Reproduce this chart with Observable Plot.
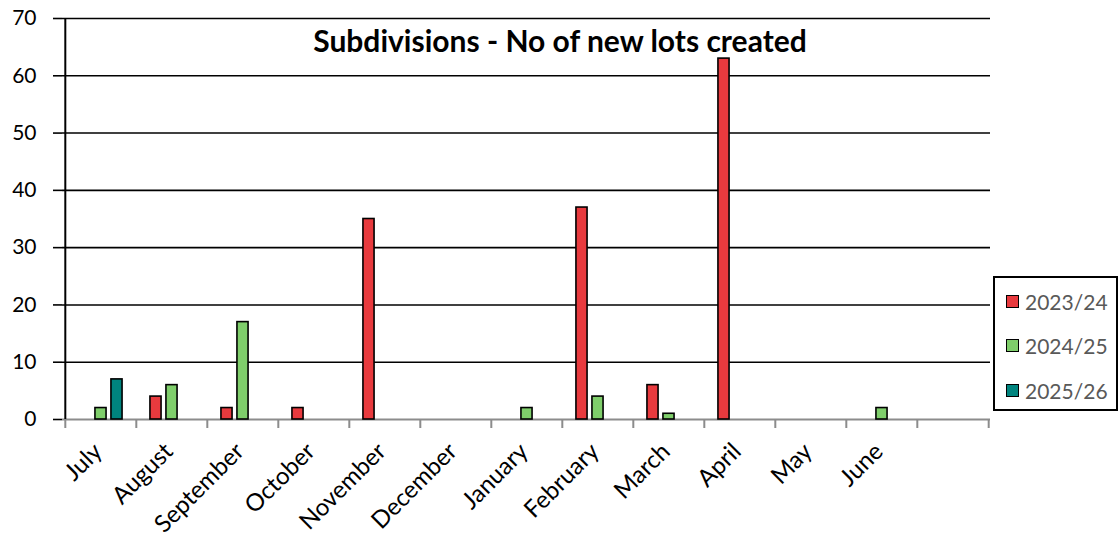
<!DOCTYPE html>
<html><head><meta charset="utf-8">
<script src="https://cdn.jsdelivr.net/npm/d3@7"></script>
<script src="https://cdn.jsdelivr.net/npm/@observablehq/plot@0.6"></script>
<style>
body{margin:0;background:#fff;font-family:Lato,"Open Sans",sans-serif;}
#wrap{position:relative;width:1120px;height:539px;overflow:hidden;}
#title{position:absolute;left:0;top:22px;width:1120px;text-align:center;font-weight:bold;font-size:30px;line-height:36px;color:#000;}
#legend{position:absolute;left:993px;top:276px;width:125px;height:135px;border:2px solid #000;box-sizing:border-box;background:#fff;}
.item{position:absolute;left:11px;height:26px;display:flex;align-items:center;font-size:21px;color:#595959;}
.sw{width:11px;height:11px;border:1.5px solid #000;margin-right:6px;}
#chart g[aria-label="x-axis tick label"] text{font-size:24px;}
#chart g[aria-label="y-axis tick label"] text{font-size:21px;}
</style></head>
<body>
<div id="wrap"><div id="chart"></div><div id="title"></div><div id="legend"></div></div>
<script>
const titleText = "Subdivisions - No of new lots created";
const months = ["July","August","September","October","November","December","January","February","March","April","May","June"];
const slots = [...months, ""];
const series = ["2023/24","2024/25","2025/26"];
const colors = ["#E83A3E","#7FCE6B","#00847E"];
const v2023_24 = [0,4,2,2,35,0,0,37,6,63,0,0];
const v2024_25 = [2,6,17,0,0,0,2,4,1,0,0,2];
const v2025_26 = [7,null,null,null,null,null,null,null,null,null,null,null];
const yTicks = [0,10,20,30,40,50,60,70];

const values = [v2023_24, v2024_25, v2025_26];
const rows = months.flatMap((m, i) => series.map((s, j) => ({month: m, series: s, value: values[j][i]})))
  .filter(d => d.value != null && d.value > 0);

const W = 1120, H = 539, mL = 62, mR = 130, mT = 18, mB = 120;
const step = (W - mL - mR) / slots.length;
const barW = 11.5, gap = 16;
const inset = (step - barW) / 2;

const barMarks = series.map((s, j) => Plot.barY(rows.filter(d => d.series === s), {
  x: "month", y: "value", fill: colors[j], stroke: "#000", strokeWidth: 1.6,
  dx: (j - 1) * gap, insetLeft: inset, insetRight: inset
}));

const chart = Plot.plot({
  width: W, height: H, marginLeft: mL, marginRight: mR, marginTop: mT, marginBottom: mB,
  style: {fontFamily: "Lato, 'Open Sans', sans-serif", fontSize: "20px", color: "#000", background: "#fff"},
  x: {type: "band", domain: slots, padding: 0},
  y: {domain: [0, 70]},
  marks: [
    Plot.ruleY(yTicks.filter(t => t > 0), {stroke: "#000", strokeWidth: 1.6}),
    Plot.ruleY([0], {stroke: "#8c8c8c", strokeWidth: 2}),
    Plot.ruleX(slots, {x: d => d, dx: -step / 2, y1: 0, y2: 0, insetBottom: -9, stroke: "#8c8c8c", strokeWidth: 2}),
    Plot.ruleX([slots[slots.length - 1]], {x: d => d, dx: step / 2, y1: 0, y2: 0, insetBottom: -9, stroke: "#8c8c8c", strokeWidth: 2}),
    ...barMarks,
    Plot.ruleX([slots[0]], {x: d => d, dx: -step / 2, stroke: "#000", strokeWidth: 2}),
    Plot.axisY({ticks: yTicks, tickSize: 9, tickPadding: 17, stroke: "#000", strokeWidth: 1.6, label: null}),
    Plot.axisX({ticks: months, tickSize: 0, tickPadding: 28, tickRotate: -45, dx: -3, label: null})
  ]
});
document.getElementById("chart").appendChild(chart);
document.getElementById("title").textContent = titleText;

const legend = document.getElementById("legend");
const rowTops = [10, 54, 99];
series.forEach((s, j) => {
  const it = document.createElement("div");
  it.className = "item";
  it.style.top = rowTops[j] + "px";
  const sw = document.createElement("div");
  sw.className = "sw";
  sw.style.background = colors[j];
  const tx = document.createElement("span");
  tx.textContent = s;
  it.appendChild(sw); it.appendChild(tx);
  legend.appendChild(it);
});
</script>
</body></html>
